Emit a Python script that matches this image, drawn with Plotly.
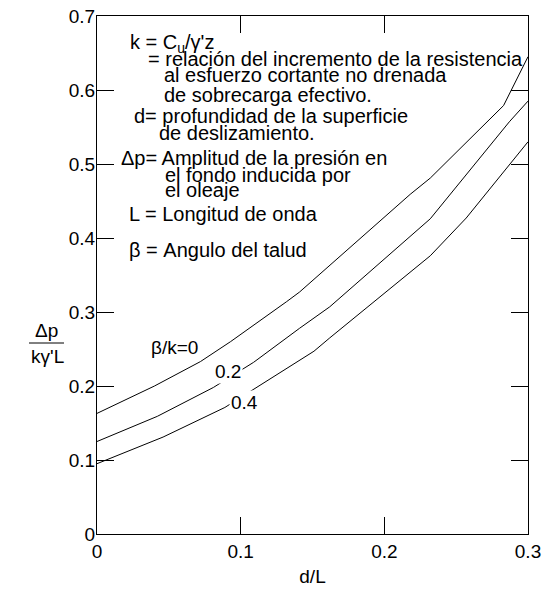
import plotly.graph_objects as go

# d/L versus normalised wave-induced bottom pressure, one curve per beta/k
x_b0 = [0.0, 0.040, 0.072, 0.093, 0.132, 0.141, 0.218, 0.232, 0.283, 0.300]
y_b0 = [0.163, 0.200, 0.233, 0.260, 0.314, 0.327, 0.459, 0.481, 0.579, 0.645]

x_b02 = [0.0, 0.042, 0.081, 0.109, 0.141, 0.162, 0.232, 0.287, 0.300]
y_b02 = [0.125, 0.159, 0.198, 0.232, 0.278, 0.307, 0.426, 0.557, 0.585]

x_b04 = [0.0, 0.046, 0.089, 0.115, 0.151, 0.162, 0.232, 0.257, 0.2895, 0.300]
y_b04 = [0.095, 0.131, 0.171, 0.203, 0.247, 0.265, 0.376, 0.427, 0.505, 0.530]

curve_labels = ["β/k=0", "0.2", "0.4"]
label_x = [0.0536, 0.0914, 0.103]
label_y = [0.252, 0.219, 0.178]

x_ticks = [0, 0.1, 0.2, 0.3]
x_tick_text = ["0", "0.1", "0.2", "0.3"]
y_ticks = [0, 0.1, 0.2, 0.3, 0.4, 0.5, 0.6, 0.7]
y_tick_text = ["0", "0.1", "0.2", "0.3", "0.4", "0.5", "0.6", "0.7"]

legend_lines = [
    "k = C<sub>u</sub>/γ'z",
    "= relación del incremento de la resistencia",
    "al esfuerzo cortante no drenada",
    "de sobrecarga efectivo.",
    "d= profundidad de la superficie",
    "de deslizamiento.",
    "Δp= Amplitud de la presión en",
    "el fondo inducida por",
    "el oleaje",
    "L = Longitud de onda",
    "β = Angulo del talud",
]

FONT = "Liberation Sans, Arial, sans-serif"
W, H = 544, 595
ML, MR, MT, MB = 97, 16, 16, 61


def px_to_paper(px, py):
    return (px - ML) / (W - ML - MR), (H - MB - py) / (H - MT - MB)


fig = go.Figure()
for xs, ys in [(x_b0, y_b0), (x_b02, y_b02), (x_b04, y_b04)]:
    fig.add_trace(go.Scatter(x=xs, y=ys, mode="lines",
                             line=dict(color="black", width=1),
                             showlegend=False, hoverinfo="skip"))

annotations = []
for t, lx, ly in zip(curve_labels, label_x, label_y):
    annotations.append(dict(x=lx, y=ly, xref="x", yref="y", text=t,
                            showarrow=False, bgcolor="white", borderpad=1,
                            font=dict(family=FONT, size=19, color="black")))

# explanatory text block (left edge / vertical centre of each line, in px)
legend_pos = [(128, 43), (146, 59), (162, 75), (162, 95), (132, 116),
              (157, 133), (119, 158), (163, 175), (163, 190), (127, 214),
              (127, 250)]
for t, (px, py) in zip(legend_lines, legend_pos):
    ax_, ay_ = px_to_paper(px, py)
    annotations.append(dict(x=ax_, y=ay_, xref="paper", yref="paper", text=t,
                            showarrow=False, xanchor="left", yanchor="middle",
                            font=dict(family=FONT, size=20, color="black")))

# y-axis title drawn as a fraction
for t, (px, py) in [("Δp", (46, 330)), ("kγ'L", (47, 356))]:
    ax_, ay_ = px_to_paper(px, py)
    annotations.append(dict(x=ax_, y=ay_, xref="paper", yref="paper", text=t,
                            showarrow=False, xanchor="center", yanchor="middle",
                            font=dict(family=FONT, size=19, color="black")))

x0p, ybar = px_to_paper(29, 343)
x1p, _ = px_to_paper(64, 343)
fig.add_shape(type="line", xref="paper", yref="paper", x0=x0p, x1=x1p,
              y0=ybar, y1=ybar, line=dict(color="black", width=1))

axis_common = dict(showline=True, linecolor="black", linewidth=1, mirror="ticks",
                   ticks="inside", ticklen=17, tickcolor="black", tickwidth=1,
                   showgrid=False, zeroline=False, automargin=False,
                   tickfont=dict(family=FONT, size=19, color="black"))

fig.update_layout(
    width=W, height=H,
    margin=dict(l=ML, r=MR, t=MT, b=MB),
    paper_bgcolor="white", plot_bgcolor="white",
    xaxis=dict(range=[0, 0.3], tickvals=x_ticks, ticktext=x_tick_text,
               title=dict(text="d/L", font=dict(family=FONT, size=19, color="black"),
                          standoff=8),
               **axis_common),
    yaxis=dict(range=[0, 0.7], tickvals=y_ticks, ticktext=y_tick_text,
               ticklabelstandoff=-3, **axis_common),
    annotations=annotations,
)

fig.write_html("out.html")
